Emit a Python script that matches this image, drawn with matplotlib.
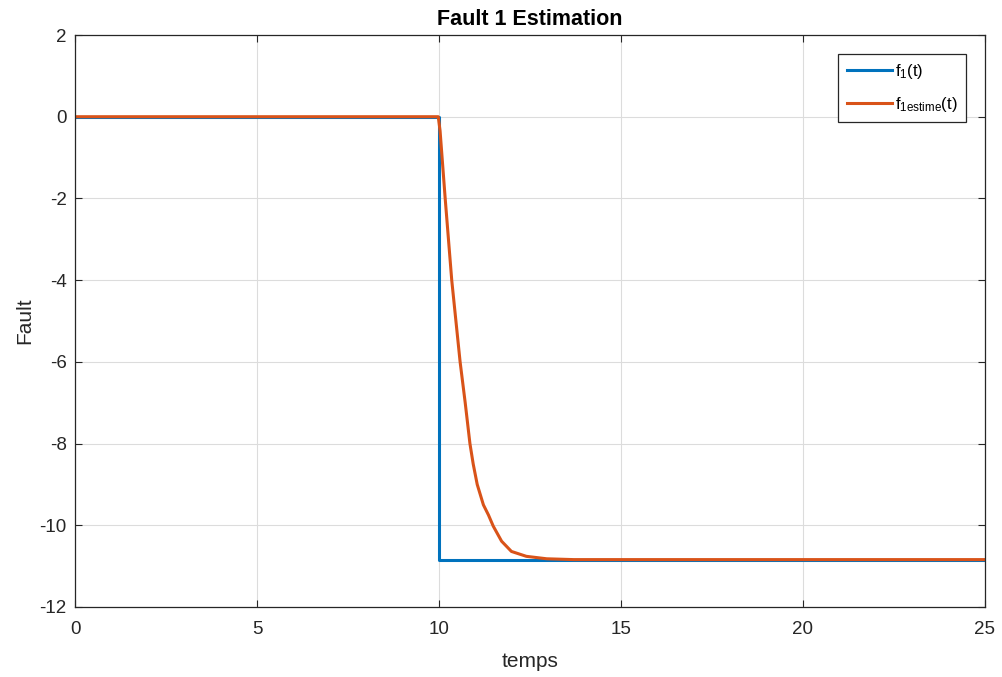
import numpy as np
import matplotlib
matplotlib.use("Agg")
from matplotlib import pyplot as plt

plt.rcParams['font.family'] = ['Liberation Sans', 'DejaVu Sans']
plt.rcParams['mathtext.fontset'] = 'custom'
plt.rcParams['mathtext.rm'] = 'Liberation Sans'
plt.rcParams['mathtext.default'] = 'regular'
plt.rcParams['axes.unicode_minus'] = False

# fault (step at t=10)
t_fault = [0, 10, 10, 25]
f_fault = [0, 0, -10.84, -10.84]

# estimated fault
t_est = [0, 9.98, 10.03, 10.17, 10.35, 10.58, 10.72, 10.85, 10.94, 11.05,
         11.22, 11.36, 11.49, 11.72, 11.99, 12.4, 12.96, 13.7, 25]
f_est = [0, 0, -0.35, -2.0, -4.0, -6.0, -7.0, -8.0, -8.5, -9.0,
         -9.5, -9.75, -10.02, -10.39, -10.64, -10.76, -10.82, -10.84, -10.84]

fig = plt.figure(figsize=(10.03, 6.77), dpi=100)
ax = fig.add_axes([0.0748, 0.1034, 0.9072, 0.8449])

ax.plot(t_fault, f_fault, color='#0072BD', lw=2.2, label=r'$f_1(t)$')
ax.plot(t_est, f_est, color='#D95319', lw=2.2, label=r'$f_{1estime}(t)$')

ax.set_xlim(0, 25)
ax.set_ylim(-12, 2)
ax.set_xticks([0, 5, 10, 15, 20, 25])
ax.set_yticks([-12, -10, -8, -6, -4, -2, 0, 2])
ax.grid(True, color='#dcdcdc', lw=0.8)
ax.set_axisbelow(True)
ax.tick_params(direction='in', top=True, right=True, labelsize=13.5,
               colors='#262626', length=5)
ax.tick_params(axis='x', pad=10)
ax.tick_params(axis='y', pad=6)
for s in ax.spines.values():
    s.set_color('#262626')
    s.set_linewidth(0.9)

ax.set_title('Fault 1 Estimation', fontsize=15.5, fontweight='bold', pad=7)
ax.set_xlabel('temps', fontsize=15, color='#262626', labelpad=10)
ax.set_ylabel('Fault', fontsize=15, color='#262626', labelpad=4)

leg = ax.legend(loc='upper right', bbox_to_anchor=(0.979, 0.967), fontsize=12,
                fancybox=False, framealpha=1, edgecolor='#262626',
                handlelength=2.7, handletextpad=0.2, borderpad=0.5,
                labelspacing=0.8, borderaxespad=0)
leg.get_frame().set_linewidth(0.9)

fig.savefig('out.png', dpi=100)
